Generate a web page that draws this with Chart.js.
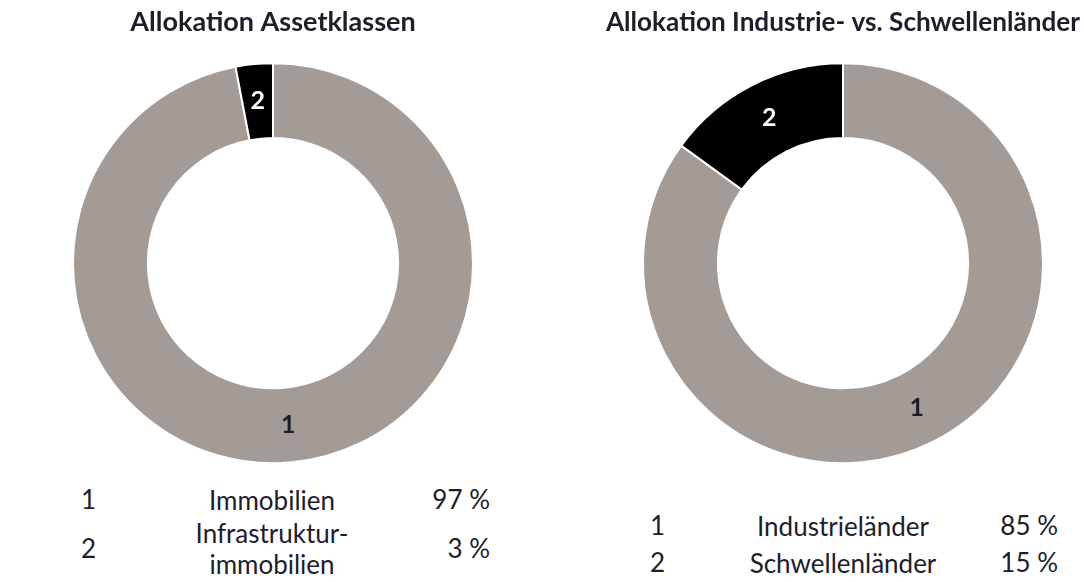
<!DOCTYPE html>
<html>
<head>
<meta charset="utf-8">
<script src="https://cdn.jsdelivr.net/npm/chart.js@4/dist/chart.umd.min.js"></script>
<style>
  body { margin: 0; background: #fff; width: 1084px; height: 582px; position: relative; overflow: hidden; font-family: Lato, "Open Sans", sans-serif; }
  .box { position: absolute; top: 0; height: 480px; }
  .leg { position: absolute; font-size: 26px; color: #1d1d2b; line-height: 31px; }
  .leg span { position: absolute; white-space: pre-line; }
</style>
</head>
<body>
<div class="box" style="left:0;width:546px"><canvas id="assets"></canvas></div>
<div class="box" style="left:560px;width:524px"><canvas id="regions"></canvas></div>
<div id="legAssets" class="leg"></div>
<div id="legRegions" class="leg"></div>
<script>
const segNumbers = ["1", "2"];
const assetLabels = ["Immobilien", "Infrastruktur-\nimmobilien"];
const assetValues = [97, 3];
const regionLabels = ["Industrieländer", "Schwellenländer"];
const regionValues = [85, 15];
const colors = ["#a39b96", "#000000"];
const numColors = ["#1d1d2b", "#ffffff"];

// number inside each slice
const numberPlugin = {
  id: "numbers",
  afterDatasetsDraw(chart) {
    const ctx = chart.ctx;
    chart.getDatasetMeta(0).data.forEach((arc, i) => {
      const p = arc.tooltipPosition();
      ctx.save();
      ctx.font = "bold 25px Lato";
      ctx.fillStyle = numColors[i];
      ctx.textAlign = "center";
      ctx.textBaseline = "middle";
      ctx.fillText(segNumbers[i], p.x, p.y);
      ctx.restore();
    });
  }
};

function donut(id, title, values, pad, align) {
  new Chart(document.getElementById(id), {
    type: "doughnut",
    data: {
      labels: segNumbers,
      datasets: [{
        data: values,
        backgroundColor: colors,
        borderColor: "#ffffff",
        borderWidth: 2
      }]
    },
    options: {
      responsive: true,
      maintainAspectRatio: false,
      animation: false,
      radius: 200,
      cutout: 135,
      layout: { padding: pad },
      plugins: {
        legend: { display: false },
        tooltip: { enabled: false },
        title: {
          display: true,
          text: title,
          align: align,
          color: "#1d1d2b",
          font: { family: "Lato", size: 27, weight: "bold", lineHeight: 1.2 },
          padding: { top: 6, bottom: 8 }
        }
      }
    },
    plugins: [numberPlugin]
  });
}

donut("assets", "Allokation Assetklassen", assetValues, { left: 0 }, "center");
donut("regions", "Allokation Industrie- vs. Schwellenländer", regionValues, { left: 46, right: 4 }, "end");

function legend(id, labels, values, numX, labX, valX, rows) {
  const el = document.getElementById(id);
  labels.forEach((lab, i) => {
    const y = rows[i];
    const n = document.createElement("span");
    n.textContent = segNumbers[i];
    n.style.cssText = "left:" + (numX - 7) + "px;top:" + (y - 16) + "px";
    const l = document.createElement("span");
    l.textContent = lab;
    const lines = lab.split("\n").length;
    l.style.cssText = "left:" + (labX - 150) + "px;width:300px;text-align:center;top:" + (y - 15.5 * lines) + "px";
    const v = document.createElement("span");
    v.textContent = values[i] + " %";
    v.style.cssText = "left:" + (valX - 100) + "px;width:100px;text-align:right;top:" + (y - 16) + "px";
    el.append(n, l, v);
  });
}

legend("legAssets", assetLabels, assetValues, 88, 272, 490, [500, 549]);
legend("legRegions", regionLabels, regionValues, 657, 843, 1058, [526, 563]);
</script>
</body>
</html>
